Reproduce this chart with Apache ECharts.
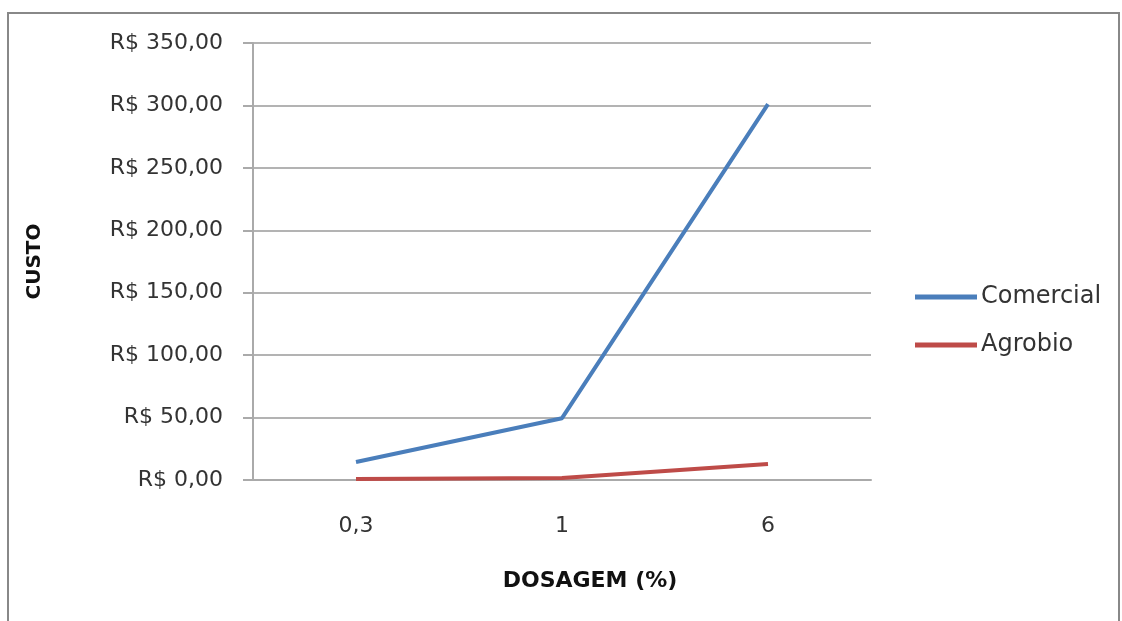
<!DOCTYPE html>
<html>
<head>
<meta charset="utf-8">
<script src="https://cdn.jsdelivr.net/npm/echarts@6/dist/echarts.min.js"></script>
</head>
<body style="margin:0">
<div id="container" style="width:1122px;height:621px"></div>
<script>
var dosagens = ['0,3', '1', '6'];
var comercial = [14.4, 49.5, 301];
var agrobio = [0.8, 1.6, 12.8];

var chart = echarts.init(document.getElementById('container'), null, { renderer: 'canvas' });
var font = 'DejaVu Sans';

function brl(v) {
  return 'R$ ' + v.toFixed(2).replace('.', ',');
}

var option = {
  animation: false,
  backgroundColor: '#fff',
  graphic: [{
    type: 'rect',
    shape: { x: 8, y: 13, width: 1111, height: 620 },
    style: { fill: 'none', stroke: '#888', lineWidth: 2 }
  }],
  grid: { left: 253, right: 251, top: 43, bottom: 141 },
  legend: {
    orient: 'vertical',
    left: 910,
    top: 280,
    itemGap: 24,
    itemWidth: 62,
    itemHeight: 5,
    icon: 'rect',
    textStyle: { fontFamily: font, fontSize: 24, color: '#333', padding: [0, 0, 0, -1] },
    data: ['Comercial', 'Agrobio']
  },
  xAxis: {
    type: 'category',
    data: dosagens,
    name: 'DOSAGEM (%)',
    nameLocation: 'middle',
    nameGap: 90,
    nameTextStyle: { fontFamily: font, fontSize: 22, fontWeight: 'bold', color: '#111', padding: [0, 0, 0, 56] },
    axisLine: { lineStyle: { color: '#aaa', width: 2 } },
    axisTick: { show: false },
    axisLabel: { fontFamily: font, fontSize: 22, color: '#333', margin: 35 }
  },
  yAxis: {
    type: 'value',
    min: 0,
    max: 350,
    interval: 50,
    name: 'CUSTO',
    nameLocation: 'middle',
    nameGap: 208,
    nameTextStyle: { fontFamily: font, fontSize: 20, fontWeight: 'bold', color: '#111' },
    axisLine: { show: true, lineStyle: { color: '#aaa', width: 2 } },
    axisTick: { show: true, length: 10, lineStyle: { color: '#aaa', width: 2 } },
    splitLine: { lineStyle: { color: '#b3b3b3', width: 2 } },
    axisLabel: { fontFamily: font, fontSize: 22, color: '#333', margin: 30, formatter: brl }
  },
  series: [{
    name: 'Comercial',
    type: 'line',
    data: comercial,
    symbol: 'none',
    color: '#4a7ebb',
    lineStyle: { width: 4 }
  }, {
    name: 'Agrobio',
    type: 'line',
    data: agrobio,
    symbol: 'none',
    color: '#be4b48',
    lineStyle: { width: 4 }
  }]
};
chart.setOption(option);
</script>
</body>
</html>
